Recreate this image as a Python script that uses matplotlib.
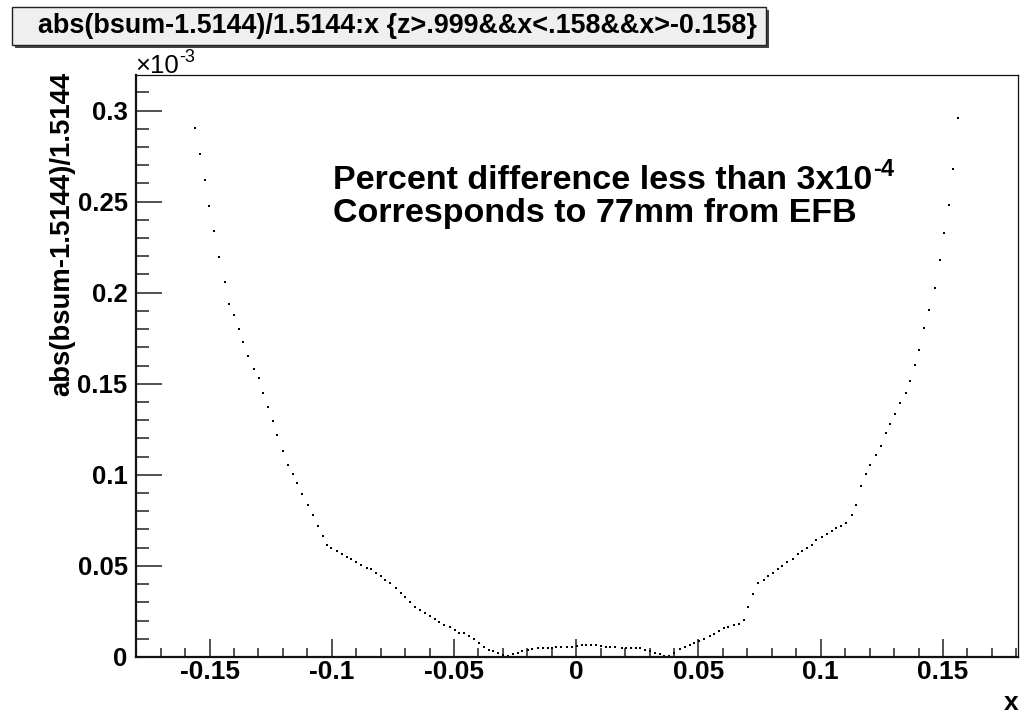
import matplotlib
matplotlib.use("Agg")
import matplotlib.pyplot as plt
from matplotlib.patches import Rectangle
from matplotlib.ticker import FixedLocator, MultipleLocator

plt.rcParams['font.family'] = ['Liberation Sans', 'DejaVu Sans']

# ---- data (y in units of 1e-3) ----
x_vals = [
    -0.1558, -0.1539, -0.1520, -0.1501, -0.1482, -0.1463, -0.1437, -0.1419, -0.1399, -0.1381,
    -0.1362, -0.1343, -0.1318, -0.1299, -0.1280, -0.1261, -0.1242, -0.1223, -0.1198, -0.1179,
    -0.1160, -0.1141, -0.1122, -0.1096, -0.1077, -0.1057, -0.1038, -0.1020, -0.1002, -0.0977,
    -0.0958, -0.0939, -0.0920, -0.0901, -0.0881, -0.0857, -0.0838, -0.0819, -0.0800, -0.0781,
    -0.0761, -0.0737, -0.0718, -0.0699, -0.0679, -0.0660, -0.0641, -0.0617, -0.0598, -0.0578,
    -0.0560, -0.0540, -0.0516, -0.0497, -0.0478, -0.0458, -0.0439, -0.0420, -0.0396, -0.0377,
    -0.0357, -0.0339, -0.0319, -0.0299, -0.0278, -0.0259, -0.0240, -0.0221, -0.0199, -0.0180,
    -0.0156, -0.0136, -0.0117, -0.0098, -0.0082, -0.0063, -0.0038, -0.0019, 0.0002, 0.0022,
    0.0041, 0.0060, 0.0079, 0.0100, 0.0120, 0.0139, 0.0158, 0.0186, 0.0205, 0.0224,
    0.0243, 0.0262, 0.0281, 0.0300, 0.0322, 0.0341, 0.0360, 0.0379, 0.0400, 0.0426,
    0.0445, 0.0464, 0.0483, 0.0502, 0.0521, 0.0546, 0.0565, 0.0584, 0.0603, 0.0622,
    0.0647, 0.0666, 0.0685, 0.0704, 0.0723, 0.0742, 0.0767, 0.0786, 0.0805, 0.0824,
    0.0843, 0.0862, 0.0887, 0.0906, 0.0925, 0.0944, 0.0963, 0.0982, 0.1007, 0.1026,
    0.1045, 0.1064, 0.1083, 0.1102, 0.1127, 0.1146, 0.1165, 0.1184, 0.1203, 0.1228,
    0.1247, 0.1266, 0.1285, 0.1305, 0.1323, 0.1348, 0.1367, 0.1385, 0.1404, 0.1423,
    0.1442, 0.1467, 0.1486, 0.1505, 0.1524, 0.1543, 0.1562,
]
y_vals_e3 = [
    0.2905, 0.2761, 0.2616, 0.2474, 0.2336, 0.2194, 0.2056, 0.1939, 0.1879, 0.1802,
    0.1727, 0.1650, 0.1583, 0.1531, 0.1447, 0.1370, 0.1293, 0.1217, 0.1132, 0.1056,
    0.1006, 0.0955, 0.0895, 0.0836, 0.0778, 0.0717, 0.0666, 0.0616, 0.0598, 0.0582,
    0.0565, 0.0547, 0.0540, 0.0523, 0.0507, 0.0488, 0.0481, 0.0463, 0.0446, 0.0421,
    0.0404, 0.0379, 0.0353, 0.0328, 0.0302, 0.0276, 0.0260, 0.0243, 0.0227, 0.0209,
    0.0192, 0.0176, 0.0166, 0.0150, 0.0133, 0.0130, 0.0115, 0.0099, 0.0075, 0.0053,
    0.0038, 0.0031, 0.0022, 0.0012, 0.0005, 0.0016, 0.0024, 0.0033, 0.0038, 0.0042,
    0.0048, 0.0048, 0.0048, 0.0052, 0.0057, 0.0057, 0.0057, 0.0057, 0.0062, 0.0068,
    0.0068, 0.0068, 0.0068, 0.0062, 0.0057, 0.0057, 0.0057, 0.0048, 0.0048, 0.0048,
    0.0048, 0.0048, 0.0038, 0.0031, 0.0024, 0.0016, 0.0007, 0.0005, 0.0020, 0.0042,
    0.0057, 0.0064, 0.0075, 0.0088, 0.0100, 0.0117, 0.0124, 0.0141, 0.0159, 0.0166,
    0.0176, 0.0183, 0.0201, 0.0276, 0.0344, 0.0404, 0.0421, 0.0446, 0.0463, 0.0481,
    0.0498, 0.0523, 0.0540, 0.0565, 0.0582, 0.0598, 0.0616, 0.0642, 0.0659, 0.0675,
    0.0693, 0.0710, 0.0719, 0.0735, 0.0778, 0.0836, 0.0939, 0.1006, 0.1056, 0.1107,
    0.1158, 0.1228, 0.1277, 0.1335, 0.1396, 0.1447, 0.1515, 0.1601, 0.1685, 0.1804,
    0.1905, 0.2024, 0.2177, 0.2329, 0.2481, 0.2677, 0.2957,
]

x_ticks = [-0.15, -0.1, -0.05, 0, 0.05, 0.1, 0.15]
x_tick_labels = ['-0.15', '-0.1', '-0.05', '0', '0.05', '0.1', '0.15']
y_ticks = [0, 0.05, 0.1, 0.15, 0.2, 0.25, 0.3]
y_tick_labels = ['0', '0.05', '0.1', '0.15', '0.2', '0.25', '0.3']

title_text = 'abs(bsum-1.5144)/1.5144:x {z>.999&&x<.158&&x>-0.158}'
y_label = 'abs(bsum-1.5144)/1.5144'
x_label = 'x'
note_line1 = 'Percent difference less than 3x10'
note_line1_sup = '-4'
note_line2 = 'Corresponds to 77mm from EFB'
exp_base = '\u00d710'
exp_sup = '-3'

W, H = 1025, 727
fig = plt.figure(figsize=(W / 100, H / 100), dpi=100)
fig.patch.set_facecolor('white')

L, R, T, B = 136, 1018, 75, 657
ax = fig.add_axes([L / W, 1 - B / H, (R - L) / W, (B - T) / H])
ax.plot(x_vals, y_vals_e3, linestyle='none', marker='s', markersize=1.5,
        markeredgewidth=0, color='black')
ax.set_xlim(-0.1801, 0.1807)
ax.set_ylim(0, 0.3195)

ax.xaxis.set_major_locator(FixedLocator(x_ticks))
ax.set_xticklabels(x_tick_labels)
ax.xaxis.set_minor_locator(MultipleLocator(0.01))
ax.yaxis.set_major_locator(FixedLocator(y_ticks))
ax.set_yticklabels(y_tick_labels)
ax.yaxis.set_minor_locator(MultipleLocator(0.01))

for lab in ax.get_xticklabels() + ax.get_yticklabels():
    lab.set_fontweight('bold')
ax.tick_params(axis='x', which='major', direction='in', length=13, width=1.1,
               labelsize=19, pad=2.5, top=False, color='#222222')
ax.tick_params(axis='x', which='minor', direction='in', length=6.5, width=1.1,
               top=False, color='#222222')
ax.tick_params(axis='y', which='major', direction='in', length=18.5, width=1.1,
               labelsize=18.5, pad=6, right=False, color='#222222')
ax.tick_params(axis='y', which='minor', direction='in', length=9.5, width=1.1,
               right=False, color='#222222')

ax.spines['left'].set_linewidth(1.6)
ax.spines['bottom'].set_linewidth(1.6)
ax.spines['top'].set_linewidth(0.9)
ax.spines['right'].set_linewidth(0.9)
for s in ax.spines.values():
    s.set_color('#111111')

# y label, aligned to top of axis
fig.text(62 / W, 1 - 72 / H, y_label, rotation=90, ha='center', va='top',
         fontsize=19.8, fontweight='bold')
# x label at right end
fig.text(R / W, 1 - 703 / H, x_label, ha='right', va='center',
         fontsize=19, fontweight='bold')

renderer = fig.canvas.get_renderer()


def text_with_sup(x_px, base_y_px, base, sup, size, sup_size, rise_px, weight):
    t = fig.text(x_px / W, 1 - base_y_px / H, base, ha='left', va='baseline',
                 fontsize=size, fontweight=weight)
    bb = t.get_window_extent(renderer=renderer)
    fig.text((bb.x1 + 0.5) / W, 1 - (base_y_px - rise_px) / H, sup, ha='left',
             va='baseline', fontsize=sup_size, fontweight=weight)


# exponent
text_with_sup(135, 73, exp_base, exp_sup, 18.5, 13, 11, 'normal')

# annotation
text_with_sup(333, 189, note_line1, note_line1_sup, 24.5, 17, 13, 'bold')
fig.text(333 / W, 1 - 222 / H, note_line2, ha='left', va='baseline',
         fontsize=24.5, fontweight='bold')

# title box with shadow
bx0, by0, bx1, by1 = 12, 7, 766, 45
fig.patches.append(Rectangle(((bx0 + 3) / W, 1 - (by1 + 3) / H), (bx1 - bx0) / W,
                             (by1 - by0) / H, transform=fig.transFigure,
                             facecolor='#444444', edgecolor='none', zorder=1))
fig.patches.append(Rectangle((bx0 / W, 1 - by1 / H), (bx1 - bx0) / W,
                             (by1 - by0) / H, transform=fig.transFigure,
                             facecolor='#efefef', edgecolor='#222222',
                             linewidth=1.0, zorder=2))
fig.text((bx0 + bx1) / 2 / W + 8 / W, 1 - (by0 + by1) / 2 / H, title_text,
         ha='center', va='center', fontsize=19.4, fontweight='bold', zorder=3)

fig.savefig('out.png', dpi=100)
